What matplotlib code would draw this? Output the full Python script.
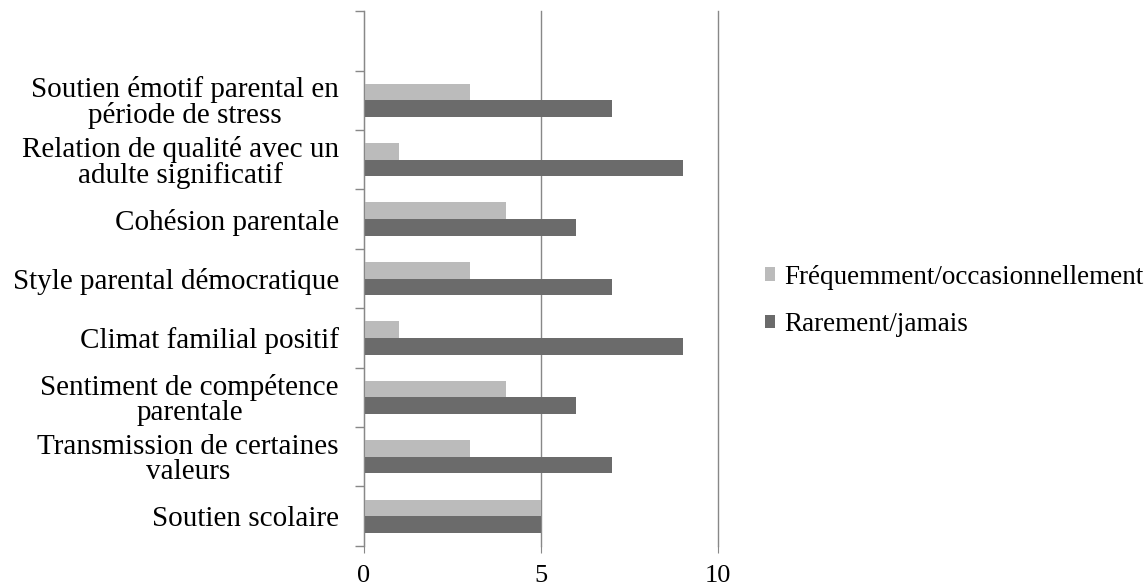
import matplotlib.pyplot as plt
import numpy as np

plt.rcParams['font.family'] = ['Liberation Serif', 'DejaVu Serif']

# Data (bottom to top)
categories = [
    "Soutien scolaire",
    "Transmission de certaines\nvaleurs",
    "Sentiment de compétence\nparentale",
    "Climat familial positif",
    "Style parental démocratique",
    "Cohésion parentale",
    "Relation de qualité avec un\nadulte significatif",
    "Soutien émotif parental en\npériode de stress",
]
frequent = [5, 3, 4, 1, 3, 4, 1, 3]
rare = [5, 7, 6, 9, 7, 6, 9, 7]
series_names = ["Fréquemment/occasionnellement", "Rarement/jamais"]

fig = plt.figure(figsize=(11.48, 5.87), dpi=100)
ax = fig.add_axes([0.317, 0.070, 0.3085, 0.911])

y = np.arange(len(categories))
h = 0.28
ax.barh(y + h / 2, frequent, height=h, color='#BBBBBB', label=series_names[0])
ax.barh(y - h / 2, rare, height=h, color='#6B6B6B', label=series_names[1])

# one empty slot on top, as in the original
ax.set_ylim(-0.5, len(categories) + 0.5)
ax.set_xlim(0, 10)
ax.set_xticks([0, 5, 10])

ax.set_yticks(y)
ax.set_yticklabels(categories, fontsize=21, linespacing=0.95, multialignment='center')
ax.set_yticks(np.arange(-0.5, len(categories) + 0.6, 1), minor=True)
ax.tick_params(axis='y', which='major', length=0, pad=18)
ax.tick_params(axis='y', which='minor', length=6.5, color='#888888', width=1)
ax.tick_params(axis='x', length=5, color='#888888', labelsize=19, pad=8.5)

ax.xaxis.grid(True, color='#888888', linewidth=1)
for gl in ax.get_xgridlines():
    gl.set_clip_on(False)
ax.set_axisbelow(True)
for s in ['top', 'right', 'bottom']:
    ax.spines[s].set_visible(False)
ax.spines['left'].set_color('#888888')

fig.legend(loc='center left', bbox_to_anchor=(0.666, 0.4875), frameon=False,
           fontsize=19.5, handlelength=0.38, handleheight=0.38, handletextpad=0.35,
           labelspacing=0.82, borderaxespad=0, borderpad=0)

fig.savefig('out.png', dpi=100)
